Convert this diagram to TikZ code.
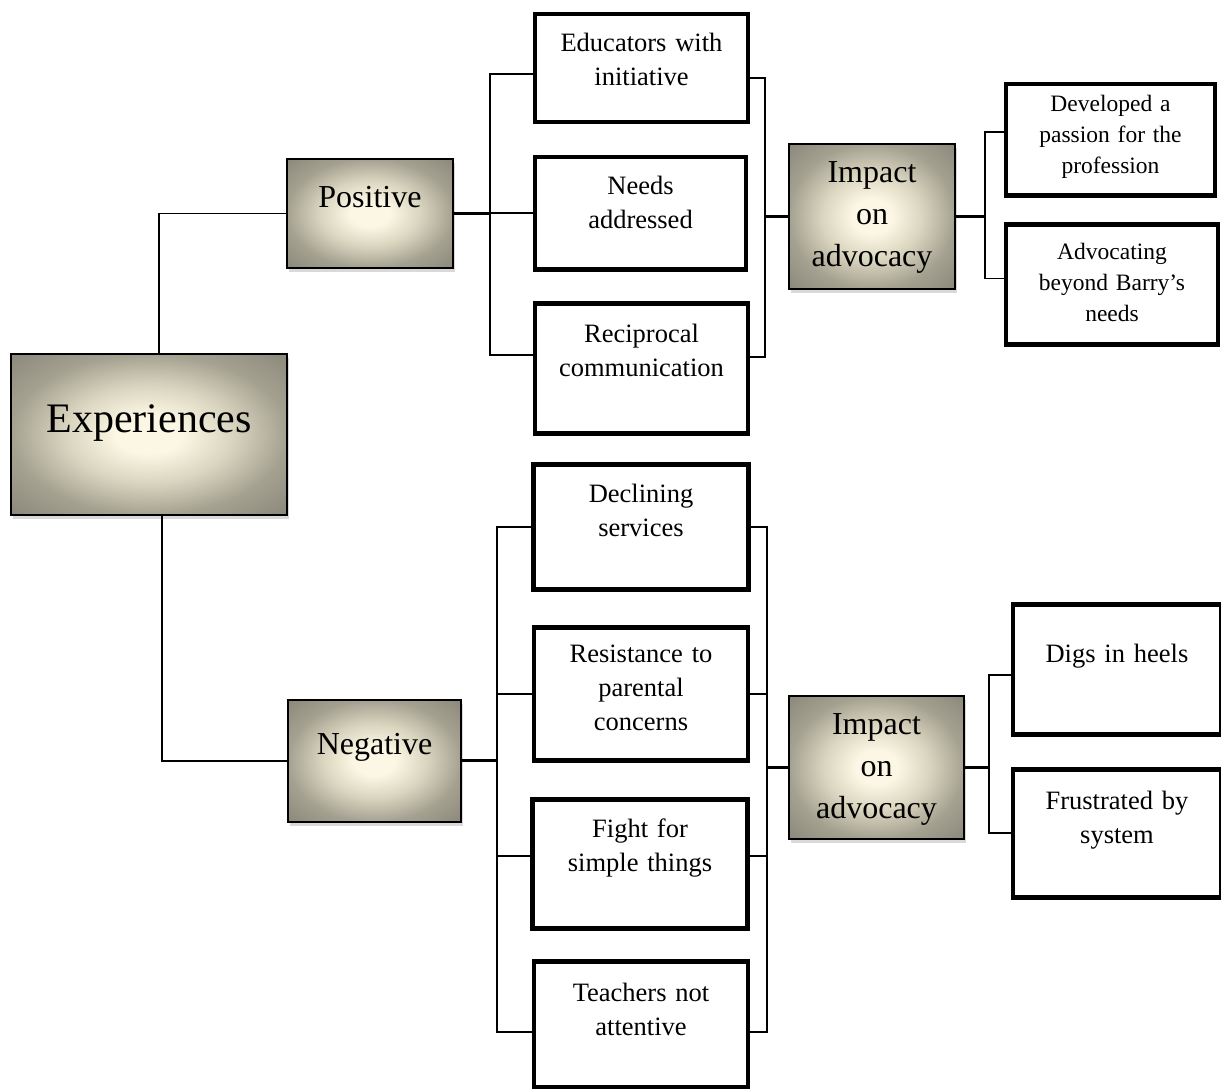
\documentclass[tikz,border=0pt]{standalone}
\usepackage{fontspec}
\setmainfont{Liberation Serif}
\usetikzlibrary{shadows}
\definecolor{glowin}{HTML}{FBF7E4}
\definecolor{glowmid}{HTML}{DAD5BF}
\definecolor{glowedge}{HTML}{A4A191}
\definecolor{glowout}{HTML}{8C897B}
\pgfdeclareradialshading{glow}{\pgfpoint{0bp}{0bp}}{color(0bp)=(glowin); color(6bp)=(glowin); color(15bp)=(glowmid); color(25bp)=(glowedge); color(35bp)=(glowout); color(50bp)=(glowout)}
\newcommand\kidfont{\fontsize{26.5}{34}\selectfont}
\newcommand\kidsmallfont{\fontsize{23.5}{31}\selectfont}
\newcommand\hdrfont{\fontsize{32}{42}\selectfont}
\newcommand\hdrbigfont{\fontsize{42}{50}\selectfont}

\begin{document}
\begin{tikzpicture}[x=1pt, y=-1pt,
    kid/.style n args={3}{draw, line width=4.5pt, fill=white, font=\kidfont, align=center, inner sep=0pt, anchor=north, text width=#1, text height=#2, text depth=#3},
    hdr/.style n args={3}{draw, line width=1.8pt, shading=glow, drop shadow={shadow xshift=2pt, shadow yshift=-4pt, opacity=0.3}, font=\hdrfont, align=center, inner sep=0pt, anchor=north, text width=#1, text height=#2, text depth=#3},
    wire/.style={line width=1.6pt},
    stub/.style={line width=3pt}]
    \useasboundingbox (0,0) rectangle (1221,1089);

    \node[hdr={276}{79}{82}, font=\hdrbigfont] (exp) at (149,353) {Experiences};
    \node[hdr={166}{49}{60}] (pos) at (370,158) {Positive};
    \node[hdr={173}{55}{67}] (neg) at (374.5,699) {Negative};
    \node[hdr={166}{39}{106}] (imppos) at (872,143) {Impact\\on\\advocacy};
    \node[hdr={175}{39}{104}] (impneg) at (876.5,695) {Impact\\on\\advocacy};

    \node[kid={213}{37}{71}] (educ) at (641.5,12) {Educators with\\initiative};
    \node[kid={211}{37}{75}] (needs) at (640.5,155) {Needs\\addressed};
    \node[kid={213}{39}{91}] (recip) at (641.5,301) {Reciprocal\\communication};
    \node[kid={209}{27.5}{83.5}, font=\kidsmallfont] (devel) at (1110.5,82) {Developed a\\passion for the\\profession};
    \node[kid={212}{35}{85}, font=\kidsmallfont] (advoc) at (1112,222) {Advocating\\beyond Barry’s\\needs};

    \node[kid={215}{38}{87}] (decl) at (641,462) {Declining\\services};
    \node[kid={214}{35}{98}] (resist) at (641,625) {Resistance to\\parental\\concerns};
    \node[kid={215}{38}{91}] (fight) at (640,797) {Fight for\\simple things};
    \node[kid={214}{40}{86}] (teach) at (641,959) {Teachers not\\attentive};
    \node[kid={208}{58}{72}] (digs) at (1117,602) {Digs in heels};
    \node[kid={208}{40}{88}] (frust) at (1117,767) {Frustrated by\\system};

    \coordinate (pl) at (490,0);
    \coordinate (pr) at (765,0);
    \coordinate (ipr) at (985,0);
    \coordinate (nl) at (497,0);
    \coordinate (nr) at (767,0);
    \coordinate (inr) at (989,0);

    \draw[wire] ([xshift=10pt]exp.north) |- (pos.west);
    \draw[wire] ([xshift=13pt]exp.south) |- (neg.west);

    \draw[stub] (pos.east) -- (pos.east -| pl);
    \draw[wire] (educ.183) -| (pl |- recip.173) -- (recip.173);
    \draw[wire] (needs.west) -- (needs.west -| pl);
    \draw[wire] (educ.-5) -| (pr |- recip.6) -- (recip.6);
    \draw[stub] (imppos.west) -- (imppos.west -| pr);
    \draw[stub] (imppos.east) -- (imppos.east -| ipr);
    \draw[wire] (devel.176) -| (ipr |- advoc.177) -- (advoc.177);

    \draw[stub] (neg.east) -- (neg.east -| nl);
    \draw[wire] (decl.west) -| (nl |- teach.184) -- (teach.184);
    \draw[wire] (resist.west) -- (resist.west -| nl);
    \draw[wire] (fight.176) -- (fight.176 -| nl);
    \draw[wire] (decl.east) -| (nr |- teach.-4) -- (teach.-4);
    \draw[wire] (resist.east) -- (resist.east -| nr);
    \draw[wire] (fight.4) -- (fight.4 -| nr);
    \draw[stub] (impneg.west) -- (impneg.west -| nr);
    \draw[stub] (impneg.east) -- (impneg.east -| inr);
    \draw[wire] (digs.183) -| (inr |- frust.west) -- (frust.west);
\end{tikzpicture}
\end{document}
